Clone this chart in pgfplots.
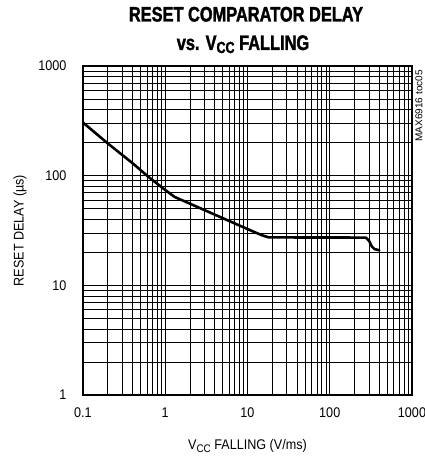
\documentclass[border=0pt]{standalone}
\usepackage{fontspec}
\setmainfont{Liberation Sans}[FakeStretch=0.9]
\newfontfamily\titlefont{Liberation Sans Bold}[FakeStretch=0.78,FakeBold=1.6]
\newfontfamily\smallfont{Liberation Sans}
\usepackage{pgfplots}
\pgfplotsset{compat=1.18}
\begin{document}
\begin{tikzpicture}[x=1pt,y=1pt]
\useasboundingbox (0,0) rectangle (425,458);
\begin{axis}[
  at={(83pt,63pt)}, anchor=south west,
  scale only axis, width=329pt, height=329pt,
  xmode=log, ymode=log,
  xmin=0.1, xmax=1000, ymin=1, ymax=1000,
  xtick={0.1,1,10,100,1000}, xticklabels={0.1,1,10,100,1000},
  ytick={1,10,100,1000}, yticklabels={1,10,100,1000},
  minor xtick={0.2,0.3,0.4,0.5,0.6,0.7,0.8,0.9,2,3,4,5,6,7,8,9,20,30,40,50,60,70,80,90,200,300,400,500,600,700,800,900},
  minor ytick={2,3,4,5,6,7,8,9,20,30,40,50,60,70,80,90,200,300,400,500,600,700,800,900},
  grid=both,
  major grid style={black, line width=1.1pt},
  minor grid style={black, line width=0.6pt},
  axis line style={line width=2.4pt},
  major tick length=0pt, minor tick length=0pt,
  /pgf/number format/assume math mode=true,
  tick label style={font=\fontsize{14}{16}\selectfont},
  xticklabel style={anchor=north, yshift=-9pt},
  yticklabel style={anchor=east, xshift=-13pt},
  xlabel={V{\fontsize{11}{11}\selectfont\raisebox{-3pt}{CC}} FALLING (V/ms)},
  ylabel={RESET DELAY (µs)},
  label style={font=\fontsize{14}{16}\selectfont},
  xlabel style={at={(axis description cs:0.5,-0.155)}, anchor=center},
  ylabel style={at={(axis description cs:-0.1915,0.5)}, anchor=center},
  clip=true,
]
\addplot[black, line width=2.6pt, line join=round, line cap=round] coordinates {
 (0.1,305) (0.2,197) (0.4,130) (0.62,98) (1.0,74) (1.3,64)
 (2,55.5) (5,41) (10,32.6) (15,28.6) (18,27.4)
 (50,27.3) (150,27.3) (275,27.2) (300,25.5) (325,22.6) (350,21.4) (400,20.9)
};
\end{axis}
\node[anchor=base, font=\titlefont\fontsize{21}{24}\selectfont] at (246,436.5) {RESET COMPARATOR DELAY};
\node[anchor=base, font=\titlefont\fontsize{21}{24}\selectfont] at (243,408) {vs. V{\fontsize{16}{16}\selectfont\raisebox{-3pt}{CC}} FALLING};
\node[anchor=east, rotate=90, inner sep=0pt, font=\smallfont\fontsize{10}{12}\selectfont] at (419,388) {MAX6916 toc05};
\end{tikzpicture}
\end{document}
